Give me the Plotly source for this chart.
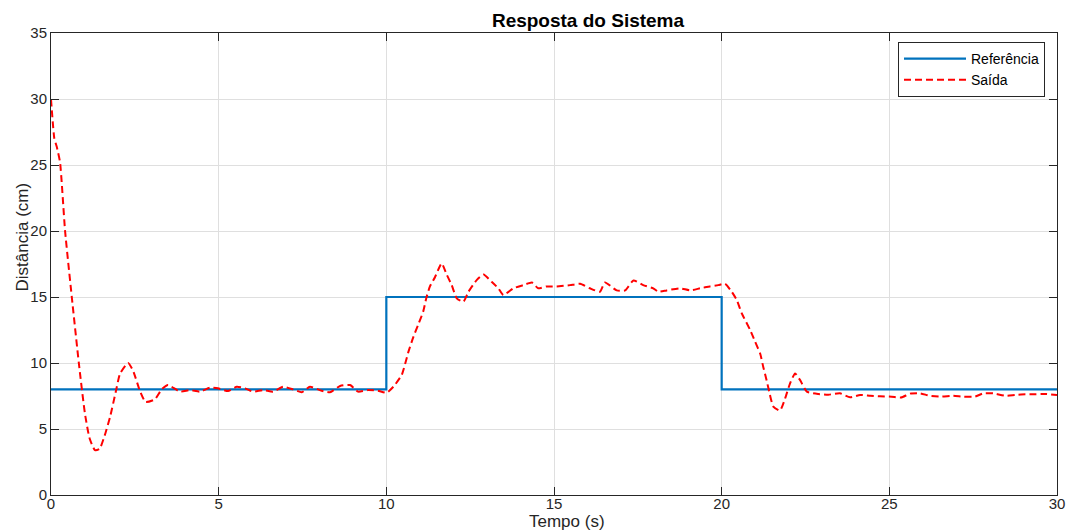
import plotly.graph_objects as go

# Reference (step) signal
ref_time = [0, 10, 20, 30]
ref_values = [8, 15, 8, 8]

# System output
out_time = [0.0, 0.1, 0.17, 0.27, 0.42, 0.62, 0.83, 1.01, 1.15, 1.31, 1.45, 1.6, 1.76, 1.93, 2.06, 2.3,
            2.45, 2.65, 2.82, 3.1, 3.3, 3.49, 3.85, 4.15, 4.44, 4.74, 4.98, 5.28, 5.54, 5.79, 6.02,
            6.33, 6.62, 6.92, 7.22, 7.48, 7.72, 8.07, 8.32, 8.62, 8.92, 9.16, 9.45, 9.75, 10.01,
            10.21, 10.46, 10.66, 10.81, 10.95, 11.1, 11.2, 11.3, 11.45, 11.65, 11.8, 11.95, 12.1,
            12.3, 12.45, 12.7, 12.9, 13.14, 13.34, 13.49, 13.79, 14.09, 14.34, 14.53, 14.78, 15.08,
            15.48, 15.78, 16.07, 16.37, 16.52, 16.87, 17.12, 17.37, 17.66, 17.96, 18.11, 18.36,
            18.76, 19.06, 19.36, 19.65, 19.9, 20.1, 20.3, 20.45, 20.6, 20.85, 21.0, 21.15, 21.24,
            21.34, 21.44, 21.54, 21.74, 21.89, 22.04, 22.19, 22.34, 22.54, 22.88, 23.18, 23.53,
            23.83, 24.13, 24.43, 24.72, 25.07, 25.35, 25.62, 25.92, 26.2, 26.55, 26.9, 27.2, 27.55,
            27.8, 28.1, 28.45, 28.75, 29.05, 29.35, 29.65, 30.0]
out_values = [30.0, 27.0, 26.4, 25.2, 20.0, 15.0, 10.0, 6.2, 4.3, 3.4, 3.5, 4.5, 5.9, 7.8, 9.2, 10.0,
              9.4, 7.9, 7.05, 7.25, 8.0, 8.33, 7.83, 7.95, 7.83, 8.13, 8.08, 7.88, 8.2, 8.08, 7.83,
              7.95, 7.83, 8.2, 8.0, 7.78, 8.2, 7.9, 7.78, 8.26, 8.33, 7.83, 7.95, 7.9, 7.75,
              8.2, 9.1, 10.86, 12.0, 12.9, 13.9, 15.0, 15.8, 16.5, 17.55, 16.7, 15.9, 14.9,
              14.65, 15.4, 16.3, 16.7, 16.15, 15.66, 15.15, 15.66, 15.9, 16.1, 15.66, 15.8, 15.8,
              15.9, 16.0, 15.66, 15.4, 16.1, 15.5, 15.5, 16.25, 15.9, 15.66, 15.4, 15.5,
              15.66, 15.5, 15.66, 15.8, 15.9, 16.0, 15.4, 14.77, 13.76, 12.5, 11.6, 10.7, 9.7,
              8.7, 7.58, 6.7, 6.4, 7.3, 8.46, 9.2, 8.7, 7.83, 7.65, 7.6, 7.7,
              7.4, 7.58, 7.52, 7.48, 7.45, 7.38, 7.68, 7.7, 7.52, 7.45, 7.52, 7.45, 7.45,
              7.7, 7.7, 7.52, 7.58, 7.63, 7.63, 7.65, 7.58]

x_ticks = [0, 5, 10, 15, 20, 25, 30]
y_ticks = [0, 5, 10, 15, 20, 25, 30, 35]

FONT = "Liberation Sans, Arial, sans-serif"
AXC = "#262626"
GRID = "#dfdfdf"

W, H = 1075, 532
ML, MR, MT, MB = 51, 18, 33, 37
PW = W - ML - MR
PH = H - MT - MB

fig = go.Figure()
fig.add_trace(go.Scatter(x=ref_time, y=ref_values, mode="lines", name="Referência",
                         line=dict(color="#0072BD", width=2.2, shape="hv")))
fig.add_trace(go.Scatter(x=out_time, y=out_values, mode="lines", name="Saída",
                         line=dict(color="#FF0000", width=2, dash="7px,4px", shape="spline", smoothing=0.5)))

axis_common = dict(showline=True, linecolor=AXC, linewidth=1, mirror="allticks",
                   ticks="inside", ticklen=8, tickcolor=AXC, tickwidth=1,
                   showgrid=True, gridcolor=GRID, gridwidth=1, zeroline=False,
                   tickfont=dict(family=FONT, size=15, color=AXC), automargin=False)

fig.update_xaxes(range=[0, 30], tickvals=x_ticks, ticktext=[str(v) for v in x_ticks],
                 ticklabelstandoff=-5, **axis_common)
fig.update_yaxes(range=[0, 35], tickvals=y_ticks, ticktext=[str(v) for v in y_ticks], **axis_common)

fig.update_layout(
    width=W, height=H,
    margin=dict(l=ML, r=MR, t=MT, b=MB),
    paper_bgcolor="white", plot_bgcolor="white",
    title=dict(text="<b>Resposta do Sistema</b>", x=588 / W, xanchor="center", xref="container",
               y=1 - 20 / H, yanchor="middle", yref="container",
               font=dict(family=FONT, size=19, color="#000000")),
    legend=dict(x=(1045 - ML) / PW, y=(495 - 42) / PH, xanchor="right", yanchor="top",
                bgcolor="white", bordercolor=AXC, borderwidth=1,
                font=dict(family=FONT, size=14, color="#000000"),
                tracegroupgap=0, itemwidth=62),
    showlegend=True,
    annotations=[
        dict(text="Tempo (s)", xref="paper", yref="paper", x=(567 - ML) / PW, y=(495 - 521) / PH,
             xanchor="center", yanchor="middle", showarrow=False,
             font=dict(family=FONT, size=17, color=AXC)),
        dict(text="Distância (cm)", xref="paper", yref="paper", x=(22 - ML) / PW, y=(495 - 237.5) / PH,
             xanchor="center", yanchor="middle", showarrow=False, textangle=-90,
             font=dict(family=FONT, size=17, color=AXC)),
    ],
)

fig.write_html("out.html", config={"displayModeBar": False},
               post_script="document.body.style.margin='0px';")
